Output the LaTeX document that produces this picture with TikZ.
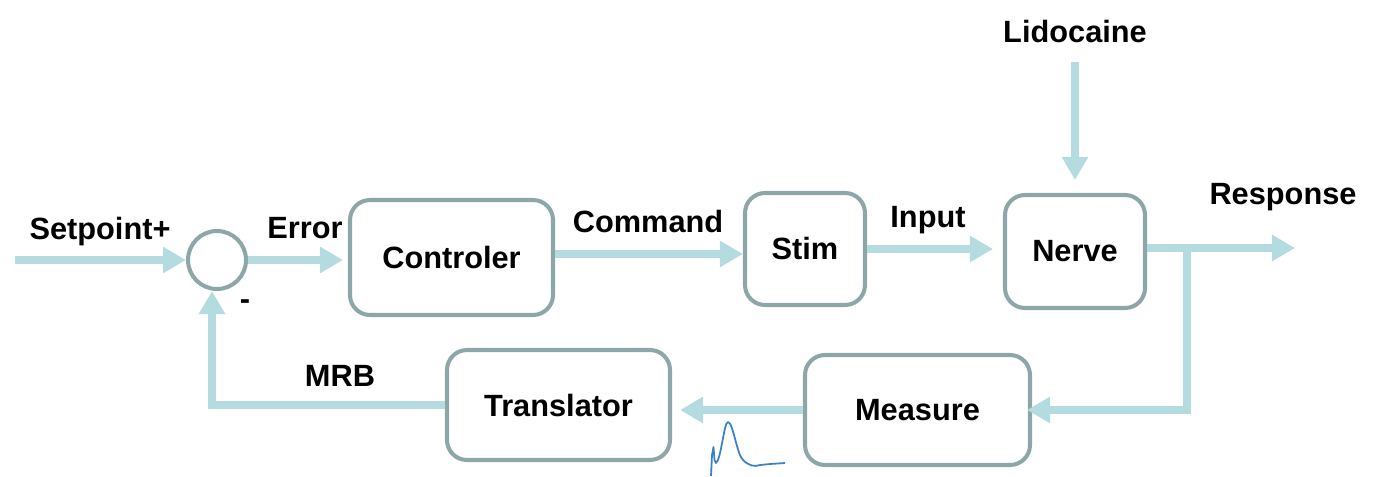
\documentclass[tikz,border=0pt]{standalone}
\usepackage{fontspec}
\setmainfont{Liberation Sans}
\usepackage{xcolor}
\usepackage{tikz}
\usetikzlibrary{arrows.meta}
\usetikzlibrary{calc}
\usetikzlibrary{positioning}
\definecolor{flowblue}{HTML}{B4DCE0}
\definecolor{boxgray}{HTML}{8DA7A8}
\definecolor{tracecol}{HTML}{3A82C8}
\tikzset{
  block/.style={draw=boxgray, line width=2.3pt, rounded corners=0.4cm, font=\fontsize{17.5}{20}\selectfont\bfseries},
  flow/.style={draw=flowblue, line width=4pt, -{Triangle[length=0.46cm,width=0.5cm]}},
  wire/.style={draw=flowblue, line width=4pt},
  lbl/.style={font=\fontsize{17.5}{20}\selectfont\bfseries}
}

\begin{document}
\begin{tikzpicture}
    \useasboundingbox (0,0) rectangle (27.82,-9.52);
    \node[block, minimum width=4.06cm, minimum height=2.3cm] (ctrl) at (9.03,-5.15) {Controler};
    \node[block, minimum width=2.4cm, minimum height=2.24cm] (stim) at (16.1,-4.98) {Stim};
    \node[block, minimum width=2.8cm, minimum height=2.26cm] (nerve) at (21.5,-5.03) {Nerve};
    \node[block, minimum width=4.5cm, minimum height=2.2cm] (meas) at (18.35,-8.2) {Measure};
    \node[block, minimum width=4.46cm, minimum height=2.2cm] (trans) at (11.17,-8.1) {Translator};
    \node[circle, draw=boxgray, line width=2.3pt, minimum size=1.16cm] (sum) at (4.34,-5.2) {};
    \node[lbl] (setp) at (2.0,-4.64) {Setpoint+};
    \node[lbl] (minus) at (4.9,-6.1) {-};
    \node[lbl] (err) at (6.1,-4.56) {Error};
    \node[lbl] (cmd) at (12.96,-4.44) {Command};
    \node[lbl] (inp) at (18.56,-4.4) {Input};
    \node[lbl] (resp) at (25.66,-3.94) {Response};
    \node[lbl] (lido) at (21.5,-0.64) {Lidocaine};
    \node[lbl] (mrb) at (6.8,-7.52) {MRB};
    \coordinate (start) at (0.3,-5.2);
    \coordinate (lidotop) at (21.5,-1.24);
    \coordinate (out) at (25.9,-4.96);
    \coordinate (branch) at (23.74,-4.96);
    % forward path
    \draw[flow] (start) -- (sum.west);
    \draw[flow, shorten >=0.1cm] (sum.east) -- (ctrl.west |- sum.east);
    \draw[flow] (ctrl.east |- stim.west) ++(0,-0.1) -- ($(stim.west)+(0,-0.1)$);
    \draw[flow, shorten >=0.2cm] (stim.east) -- (nerve.west |- stim.east);
    \draw[flow, shorten >=0.26cm] (lidotop) -- (nerve.north);
    \draw[flow] (nerve.east |- out) -- (out);
    % feedback path
    \draw[flow, shorten >=-0.1cm] (branch) |- (meas.east);
    \draw[flow, shorten >=0.16cm] (meas.west) -- (trans.east |- meas.west);
    \draw[flow] (trans.west) -| ($(sum.south)+(-0.1,0)$);
    % recorded trace
    \draw[tracecol, line width=1pt, line join=round]
      (14.22,-9.52) -- (14.24,-9.1) -- (14.27,-8.94) -- (14.29,-9.2) -- (14.32,-9.26)
      .. controls (14.42,-9.2) and (14.48,-8.44) .. (14.56,-8.44)
      .. controls (14.66,-8.44) and (14.74,-9.1) .. (14.86,-9.2)
      .. controls (14.98,-9.32) and (15.1,-9.34) .. (15.2,-9.3)
      -- (15.4,-9.28) -- (15.7,-9.26);
\end{tikzpicture}
\end{document}
